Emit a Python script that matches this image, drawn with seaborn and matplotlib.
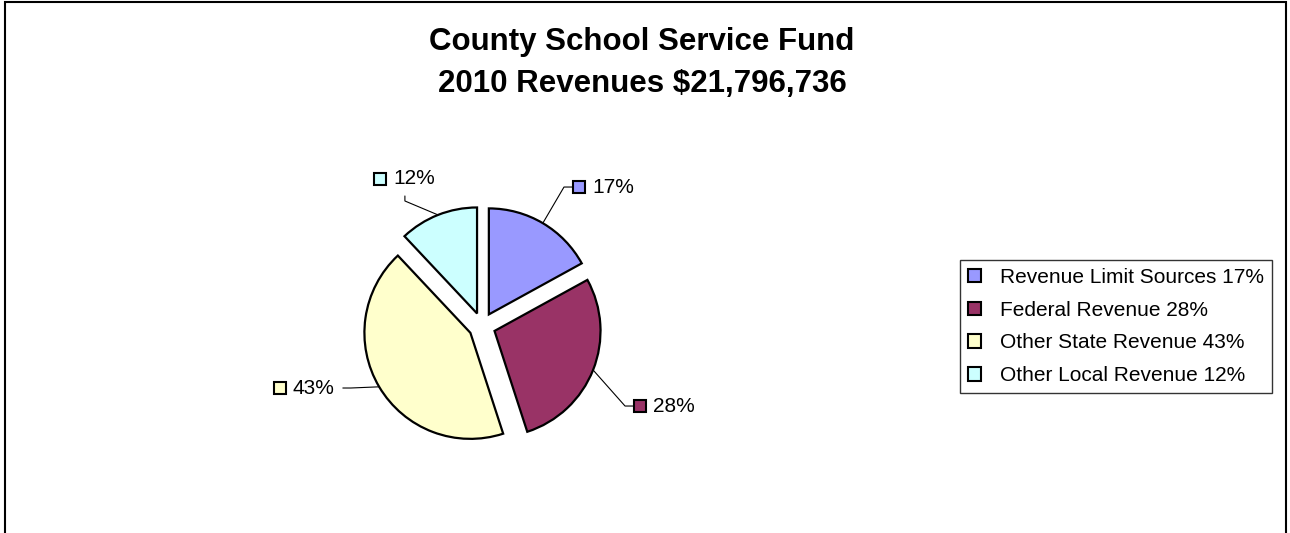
import matplotlib
matplotlib.use("Agg")
import matplotlib.pyplot as plt
import matplotlib.patches as mpatches
import seaborn as sns
import numpy as np

W, H = 1290, 533

# chart data
categories = ["Revenue Limit Sources", "Federal Revenue", "Other State Revenue", "Other Local Revenue"]
shares = [17, 28, 43, 12]
slice_colors = ["#9999FF", "#993366", "#FFFFCC", "#CCFFFF"]
title_lines = ["County School Service Fund", "2010 Revenues $21,796,736"]

# layout: pie centre/radius in pixels from the top left corner
PIE_CX, PIE_CY, PIE_R = 482, 326, 106
EXPLODE = 0.127
# data label marker centres, in pie radius units (x right, y up)
label_pos = [(0.915, 1.311), (1.491, -0.755), (-1.906, -0.585), (-0.962, 1.387)]

sns.set_theme(style="white")
plt.rcParams["font.family"] = ["Liberation Sans", "DejaVu Sans"]
plt.rcParams["text.color"] = "black"

fig = plt.figure(figsize=(W / 100, H / 100), dpi=100)
ax = fig.add_axes([0, 0, 1, 1])

palette = sns.color_palette(slice_colors)
wedges, _ = ax.pie(shares, colors=palette, startangle=90, counterclock=False,
                   explode=[EXPLODE] * len(shares), radius=1.0,
                   wedgeprops=dict(edgecolor="black", linewidth=1.6))

ax.set_aspect("auto")
ax.set_xlim(-PIE_CX / PIE_R, (W - PIE_CX) / PIE_R)
ax.set_ylim(-(H - PIE_CY) / PIE_R, PIE_CY / PIE_R)
ax.axis("off")

px = 1.0 / PIE_R  # one pixel in data units

# data labels: small colour square + percentage
texts = []
for (lx, ly), s, col in zip(label_pos, shares, palette):
    ax.plot([lx], [ly], marker="s", markersize=8.5, markerfacecolor=col,
            markeredgecolor="black", markeredgewidth=1.5, linestyle="none")
    t = ax.text(lx + 13 * px, ly, f"{s}%", ha="left", va="center", fontsize=15, color="black")
    texts.append(t)

fig.canvas.draw()
renderer = fig.canvas.get_renderer()
inv = ax.transData.inverted()

# leader lines from wedge edge to label box
for w, (lx, ly), t in zip(wedges, label_pos, texts):
    thm = np.deg2rad((w.theta1 + w.theta2) / 2)
    ex, ey = (1 + EXPLODE) * np.cos(thm), (1 + EXPLODE) * np.sin(thm)
    bb = t.get_window_extent(renderer)
    right = inv.transform((bb.x1, bb.y0))[0] + 8 * px
    left = lx - 7 * px
    if right < ex:
        pts = [(ex, ey), (right + 8 * px, ly), (right, ly)]
    elif left > ex:
        pts = [(ex, ey), (left - 8 * px, ly), (left, ly)]
    else:
        cx = (left + right) / 2 - 3 * px
        bottom = ly - 17 * px
        pts = [(ex, ey), (cx, bottom - 5 * px), (cx, bottom)]
    xs, ys = zip(*pts)
    ax.plot(xs, ys, color="black", linewidth=0.8)

# title
fig.text(642 / W, 1 - 50 / H, title_lines[0], ha="center", va="baseline",
         fontsize=22.5, fontweight="bold", color="black")
fig.text(642 / W, 1 - 92 / H, title_lines[1], ha="center", va="baseline",
         fontsize=22.5, fontweight="bold", color="black")

# legend
handles = [mpatches.Patch(facecolor=c, edgecolor="black", linewidth=1.5) for c in palette]
labels = [f"{c} {s}%" for c, s in zip(categories, shares)]
leg = fig.legend(handles, labels, loc="upper left", bbox_to_anchor=(960 / W, 1 - 260 / H),
                 bbox_transform=fig.transFigure, fontsize=15, frameon=True, fancybox=False,
                 borderaxespad=0, borderpad=0.38, labelspacing=0.66, labelcolor="black",
                 handlelength=0.62, handleheight=0.62, handletextpad=0.9)
leg.get_frame().set_edgecolor("black")
leg.get_frame().set_linewidth(1.0)

# chart area border (bottom edge runs off the image)
fig.add_artist(mpatches.Rectangle((5 / W, -0.05), (1286 - 5) / W, 1.05 - 2 / H,
                                  transform=fig.transFigure, fill=False,
                                  edgecolor="black", linewidth=1.5, clip_on=False))

fig.savefig("out.png", dpi=100)
